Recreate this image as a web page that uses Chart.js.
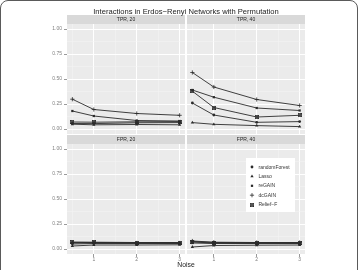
<!DOCTYPE html>
<html>
<head>
<meta charset="utf-8">
<script src="https://cdn.jsdelivr.net/npm/chart.js@4"></script>
<style>
html, body { margin: 0; padding: 0; background: #fff; }
#wrap { position: relative; width: 360px; height: 270px; overflow: hidden; }
#frame { position: absolute; left: 0; top: 0; width: 358px; height: 300px; border: 1px solid #5a5a5a; border-radius: 8px; box-sizing: border-box; }
canvas { position: absolute; left: 0; top: 0; }
</style>
</head>
<body>
<div id="wrap">
  <div id="frame"></div>
  <canvas id="c0" width="360" height="270"></canvas>
  <canvas id="c1" width="360" height="270"></canvas>
  <canvas id="c2" width="360" height="270"></canvas>
  <canvas id="c3" width="360" height="270"></canvas>
</div>
<script>
// ================= DATA =================
const noise = [0.5, 1, 2, 3];
const methods = ["randomForest", "Lasso", "reGAIN", "dcGAIN", "Relief\u2212F"];
const panelTitles = ["TPR, 20", "TPR, 40", "FPR, 20", "FPR, 40"];

const xTicks = [0.5, 1, 1.5, 2, 2.5, 3];
const xMajor = [1, 2, 3];
const yTicks = [0, 0.125, 0.25, 0.375, 0.5, 0.625, 0.75, 0.875, 1];
const yMajor = [0, 0.25, 0.5, 0.75, 1];

// rows follow the order of `methods`
const tpr20 = [
    [0.055, 0.054, 0.062, 0.064],
    [0.048, 0.042, 0.045, 0.042],
    [0.18, 0.13, 0.085, 0.08],
    [0.298, 0.195, 0.155, 0.137],
    [0.07, 0.068, 0.072, 0.074]
];
const tpr40 = [
    [0.26, 0.14, 0.067, 0.074],
    [0.064, 0.047, 0.034, 0.024],
    [0.39, 0.318, 0.21, 0.185],
    [0.565, 0.42, 0.295, 0.235],
    [0.378, 0.215, 0.12, 0.137]
];
const fpr20 = [
    [0.06, 0.062, 0.062, 0.062],
    [0.03, 0.04, 0.04, 0.042],
    [0.05, 0.055, 0.055, 0.055],
    [0.065, 0.065, 0.06, 0.06],
    [0.07, 0.068, 0.065, 0.065]
];
const fpr40 = [
    [0.075, 0.065, 0.062, 0.062],
    [0.02, 0.035, 0.038, 0.04],
    [0.06, 0.055, 0.055, 0.055],
    [0.08, 0.068, 0.065, 0.065],
    [0.07, 0.06, 0.06, 0.06]
];

// ================= STYLE =================
const FONT = "'Liberation Sans', Arial, sans-serif";
const LINE = "#2b2b2b";

// square with a cross (ggplot shape 7)
const boxX = document.createElement("canvas");
boxX.width = 4; boxX.height = 4;
(function () {
    const g = boxX.getContext("2d");
    g.strokeStyle = LINE; g.lineWidth = 0.8;
    g.strokeRect(0.4, 0.4, 3.2, 3.2);
    g.beginPath();
    g.moveTo(0.4, 0.4); g.lineTo(3.6, 3.6);
    g.moveTo(3.6, 0.4); g.lineTo(0.4, 3.6);
    g.stroke();
})();

const pointStyles = ["circle", "triangle", "rect", "cross", boxX];
const pointRadii = [1.4, 1.9, 1.6, 2.1, 2];

// ================= PANELS =================
function makePanel(id, title, rows, box, extra) {
    const showY = box.showY, showX = box.showX;
    const deco = {
        id: "deco" + id,
        beforeDraw(chart) {
            const a = chart.chartArea, ctx = chart.ctx;
            ctx.save();
            ctx.fillStyle = "#EBEBEB";
            ctx.fillRect(a.left, a.top, a.right - a.left, a.bottom - a.top);
            ctx.fillStyle = "#D9D9D9";
            ctx.fillRect(a.left, a.top - 9, a.right - a.left, 9);
            ctx.fillStyle = "#1f1f1f";
            ctx.font = "5px " + FONT;
            ctx.textAlign = "center";
            ctx.textBaseline = "middle";
            ctx.fillText(title, (a.left + a.right) / 2, a.top - 4.2);
            ctx.restore();
        }
    };

    const isMajor = c => c.tick && (c.scale.axis === "x" ? xMajor : yMajor).includes(c.tick.value);
    const gridColor = c => isMajor(c) ? "#ffffff" : "#F4F4F4";
    const gridWidth = c => isMajor(c) ? 1 : 0.5;
    const tickColor = c => isMajor(c) ? "#7f7f7f" : "rgba(0,0,0,0)";

    return new Chart(document.getElementById(id), {
        type: "line",
        data: {
            datasets: methods.map((m, i) => ({
                label: m,
                data: noise.map((x, j) => ({ x: x, y: rows[i][j] })),
                borderColor: LINE,
                borderWidth: 0.9,
                backgroundColor: LINE,
                pointStyle: pointStyles[i],
                pointRadius: pointRadii[i],
                pointBackgroundColor: LINE,
                pointBorderColor: LINE,
                pointBorderWidth: i === 3 ? 0.8 : 0,
                fill: false,
                tension: 0
            }))
        },
        options: {
            responsive: false,
            animation: false,
            layout: { padding: box.padding },
            plugins: { legend: { display: false }, tooltip: { enabled: false } },
            scales: {
                x: {
                    type: "linear", min: 0.375, max: 3.125,
                    afterBuildTicks: s => { s.ticks = xTicks.map(v => ({ value: v })); },
                    afterFit: s => { s.height = showX ? 12 : 0; },
                    ticks: {
                        display: showX, autoSkip: false, maxRotation: 0, padding: 0,
                        color: "#7f7f7f", font: { size: 5, family: FONT },
                        callback: v => xMajor.includes(v) ? String(v) : ""
                    },
                    grid: { color: gridColor, lineWidth: gridWidth, drawTicks: showX, tickLength: 3, tickColor: tickColor, tickWidth: 0.8 },
                    border: { display: false }
                },
                y: {
                    type: "linear", min: -0.05, max: 1.05,
                    afterBuildTicks: s => { s.ticks = yTicks.map(v => ({ value: v })); },
                    afterFit: s => { s.width = showY ? 20 : 0; },
                    ticks: {
                        display: showY, autoSkip: false, padding: 2,
                        color: "#7f7f7f", font: { size: 5, family: FONT },
                        callback: v => yMajor.includes(v) ? v.toFixed(2) : ""
                    },
                    grid: { color: gridColor, lineWidth: gridWidth, drawTicks: showY, tickLength: 3, tickColor: tickColor, tickWidth: 0.8 },
                    border: { display: false }
                }
            }
        },
        plugins: [deco].concat(extra || [])
    });
}

// ================= TITLE + AXIS TITLE =================
const texts = {
    id: "texts",
    afterDraw(chart) {
        const ctx = chart.ctx;
        ctx.save();
        ctx.fillStyle = "#222";
        ctx.textAlign = "center";
        ctx.textBaseline = "alphabetic";
        ctx.font = "7.6px " + FONT;
        ctx.fillText("Interactions in Erdos\u2212Renyi Networks with Permutation", 186, 13.7);
        ctx.font = "6.8px " + FONT;
        ctx.textBaseline = "middle";
        ctx.fillText("Noise", 186, 265.6);
        ctx.restore();
    }
};

// ================= LEGEND =================
const legendBox = {
    id: "legendBox",
    afterDraw(chart) {
        const ctx = chart.ctx;
        ctx.save();
        ctx.fillStyle = "#ffffff";
        ctx.fillRect(246, 158, 49, 54);
        ctx.font = "5px " + FONT;
        ctx.textAlign = "left";
        ctx.textBaseline = "middle";
        methods.forEach((m, i) => {
            const y = 167 + i * 9.4;
            ctx.fillStyle = LINE;
            ctx.strokeStyle = LINE;
            ctx.lineWidth = 0.8;
            Chart.helpers.drawPoint(ctx, {
                pointStyle: pointStyles[i], rotation: 0,
                radius: pointRadii[i], borderWidth: i === 3 ? 0.8 : 0
            }, 252, y);
            ctx.fillStyle = "#333";
            ctx.fillText(m, 258.5, y + 0.3);
        });
        ctx.restore();
    }
};

makePanel("c0", panelTitles[0], tpr20,
    { showY: true, showX: false, padding: { left: 47, top: 24, right: 175, bottom: 136 } }, [texts]);
makePanel("c1", panelTitles[1], tpr40,
    { showY: false, showX: false, padding: { left: 187, top: 24, right: 55, bottom: 136 } });
makePanel("c2", panelTitles[2], fpr20,
    { showY: true, showX: true, padding: { left: 47, top: 144, right: 175, bottom: 4 } });
makePanel("c3", panelTitles[3], fpr40,
    { showY: false, showX: true, padding: { left: 187, top: 144, right: 55, bottom: 4 } }, [legendBox]);
</script>
</body>
</html>
